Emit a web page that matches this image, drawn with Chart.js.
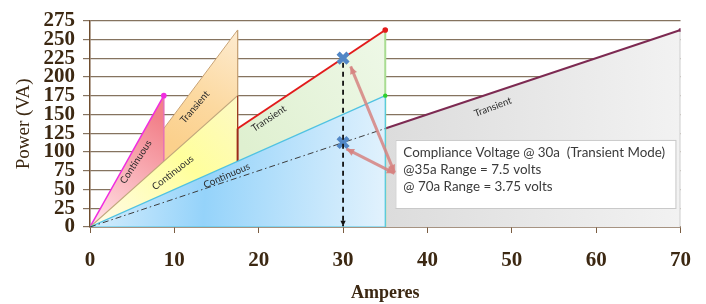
<!DOCTYPE html>
<html>
<head>
<meta charset="utf-8">
<script src="https://cdn.jsdelivr.net/npm/chart.js@4.4.1/dist/chart.umd.min.js"></script>
<style>
  html, body { margin: 0; padding: 0; background: #fff; }
  #wrap { width: 706px; height: 304px; position: relative; }
</style>
</head>
<body>
<div id="wrap"><canvas id="chart"></canvas></div>
<script>
// shapes: amps (x) and power in VA (y)
const pinkAmps = [0, 8.75, 8.75];
const pinkVA = [0, 175, 0];
const orangeAmps = [0, 17.5, 17.5];
const orangeVA = [0, 262.5, 0];
const yellowAmps = [0, 17.5, 17.5];
const yellowVA = [0, 175, 0];
const greenAmps = [17.5, 17.5, 35, 35];
const greenVA = [0, 131.25, 262.5, 0];
const blueAmps = [0, 35, 35, 0];
const blueVA = [0, 175, 0, 0];
const grayAmps = [35, 70, 70];
const grayVA = [131.25, 262.5, 0];
const dashAmps = [0, 35];
const dashVA = [0, 131.25];
const markAmps = [30, 30];
const markVA = [225, 112.5];

const xTicks = [0, 10, 20, 30, 40, 50, 60, 70];
const yTicks = [0, 25, 50, 75, 100, 125, 150, 175, 200, 225, 250, 275];

const boxLines = [
  "Compliance Voltage @ 30a  (Transient Mode)",
  "@35a Range = 7.5 volts",
  "@ 70a Range = 3.75 volts"
];

const zoneLabels = [
  { text: "Continuous", x: 5.43, y: 86.8, angle: -57 },
  { text: "Transient", x: 12.42, y: 159.8, angle: -49.5 },
  { text: "Continuous", x: 9.82, y: 72.4, angle: -38 },
  { text: "Continuous", x: 16.2, y: 68.5, angle: -23.5 },
  { text: "Transient", x: 21.2, y: 144.5, angle: -33.7 },
  { text: "Transient", x: 47.75, y: 159.8, angle: -21 }
];

function pts(xs, ys) {
  return xs.map((x, i) => ({ x: x, y: ys[i] }));
}

function grad(stops, from, to) {
  return (c) => {
    const ch = c.chart;
    if (!ch.chartArea) return stops[0][1];
    const sx = ch.scales.x, sy = ch.scales.y;
    const g = ch.ctx.createLinearGradient(
      sx.getPixelForValue(from[0]), sy.getPixelForValue(from[1]),
      sx.getPixelForValue(to[0]), sy.getPixelForValue(to[1]));
    stops.forEach(s => g.addColorStop(s[0], s[1]));
    return g;
  };
}

function segColors(colors) {
  return { borderColor: (c) => colors[c.p0DataIndex] };
}

function arrow(ctx, x0, y0, x1, y1, size, both) {
  const a = Math.atan2(y1 - y0, x1 - x0);
  const head = (x, y, ang) => {
    ctx.beginPath();
    ctx.moveTo(x, y);
    ctx.lineTo(x - size * Math.cos(ang - 0.45), y - size * Math.sin(ang - 0.45));
    ctx.lineTo(x - size * Math.cos(ang + 0.45), y - size * Math.sin(ang + 0.45));
    ctx.closePath();
    ctx.fill();
  };
  ctx.beginPath();
  ctx.moveTo(x0, y0);
  ctx.lineTo(x1, y1);
  ctx.stroke();
  ctx.setLineDash([]);
  head(x1, y1, a);
  if (both) head(x0, y0, a + Math.PI);
}

const notes = {
  id: "notes",
  afterDatasetsDraw(chart) {
    const ctx = chart.ctx;
    const sx = chart.scales.x, sy = chart.scales.y;
    const px = v => sx.getPixelForValue(v);
    const py = v => sy.getPixelForValue(v);
    ctx.save();

    // zone labels
    ctx.fillStyle = "#2b2b2b";
    ctx.font = "9.8px Lato";
    ctx.textAlign = "center";
    ctx.textBaseline = "middle";
    zoneLabels.forEach(l => {
      ctx.save();
      ctx.translate(px(l.x), py(l.y));
      ctx.rotate(l.angle * Math.PI / 180);
      ctx.fillText(l.text, 0, 0);
      ctx.restore();
    });

    // dashed drop line at 30a
    ctx.strokeStyle = "#111";
    ctx.fillStyle = "#111";
    ctx.lineWidth = 1.8;
    ctx.setLineDash([5, 4]);
    arrow(ctx, px(30), py(219), px(30), py(1), 6, false);

    // text box
    const bx0 = px(36.2), bx1 = px(69.4), by0 = py(116), by1 = py(25.3);
    ctx.fillStyle = "#ffffff";
    ctx.fillRect(bx0, by0, bx1 - bx0, by1 - by0);
    ctx.strokeStyle = "#c9c9c9";
    ctx.lineWidth = 1;
    ctx.strokeRect(bx0 + 0.5, by0 + 0.5, bx1 - bx0, by1 - by0);
    ctx.fillStyle = "#3a3a3a";
    ctx.font = "13.4px Lato";
    ctx.textAlign = "left";
    ctx.textBaseline = "middle";
    boxLines.forEach((t, i) => ctx.fillText(t, bx0 + 8, by0 + 13 + i * 16.7));

    // pink arrows to the markers
    ctx.strokeStyle = "rgba(214,130,128,0.85)";
    ctx.fillStyle = "rgba(214,130,128,0.9)";
    ctx.lineWidth = 3;
    arrow(ctx, px(30.9), py(214), px(36.1), py(72.5), 8.5, true);
    arrow(ctx, px(30.4), py(104), px(36.1), py(71.5), 8.5, true);

    ctx.restore();
  }
};

const tickFont = { family: "Liberation Serif", size: 21, weight: "bold" };
const brown = "#3c2812";

new Chart(document.getElementById("chart"), {
  type: "line",
  data: {
    datasets: [
      {
        data: pts(grayAmps, grayVA),
        order: 9,
        fill: "origin",
        backgroundColor: grad([[0, "#dcdcdc"], [1, "#f2f2f2"]], [35, 0], [70, 0]),
        borderWidth: 2,
        segment: segColors(["#7d2a52", "#cfcfcf"]),
        pointRadius: [0, 2, 0],
        pointBackgroundColor: "#7d2a52",
        pointBorderWidth: 0
      },
      {
        data: pts(orangeAmps, orangeVA),
        order: 8,
        fill: "origin",
        backgroundColor: grad([[0, "#fdebd0"], [0.6, "#fcd9a0"], [1, "#fbd08c"]], [17.5, 262.5], [10, 110]),
        borderWidth: 1,
        segment: segColors(["#c9a477", "#c9a477"]),
        pointRadius: 0
      },
      {
        data: pts(pinkAmps, pinkVA),
        order: 7,
        fill: "origin",
        backgroundColor: grad([[0, "#ffdde2"], [1, "#f2818a"]], [1, 10], [8.75, 140]),
        borderWidth: 1.5,
        segment: segColors(["#f02ce0", "#e671b5"]),
        pointRadius: [0, 2.8, 0],
        pointBackgroundColor: "#f02ce0",
        pointBorderWidth: 0
      },
      {
        data: pts(yellowAmps, yellowVA),
        order: 6,
        fill: "origin",
        backgroundColor: grad([[0, "#fffbe2"], [0.55, "#ffff9c"], [1, "#fdf9c4"]], [2, 5], [17.5, 170]),
        borderWidth: 1.2,
        segment: segColors(["#c0a67c", "#9c3b1f"]),
        pointRadius: 0
      },
      {
        data: pts(greenAmps, greenVA),
        order: 5,
        fill: "origin",
        backgroundColor: grad([[0, "#dff0d0"], [1, "#eef8e7"]], [17.5, 120], [35, 250]),
        borderWidth: 2,
        segment: segColors(["#9c2a1a", "#e21b1b", "#a9dc92"]),
        pointRadius: [0, 0, 2.8, 0],
        pointBackgroundColor: "#e21b1b",
        pointBorderWidth: 0
      },
      {
        data: pts(blueAmps, blueVA),
        order: 4,
        fill: "origin",
        backgroundColor: grad([[0, "#cbe9fc"], [0.35, "#95d3fa"], [1, "#e2f2fd"]], [2, 40], [35, 20]),
        borderWidth: 1.2,
        segment: segColors(["#4fc2e2", "#4fc8e4", "#4fc8e4"]),
        pointRadius: [0, 2.2, 0, 0],
        pointBackgroundColor: "#2ed12e",
        pointBorderWidth: 0
      },
      {
        data: pts(dashAmps, dashVA),
        order: 3,
        fill: false,
        borderColor: "#3c3c3c",
        borderWidth: 1,
        borderDash: [6, 3, 1.5, 3],
        pointRadius: 0
      },
      {
        data: pts(markAmps, markVA),
        order: 1,
        showLine: false,
        pointStyle: "crossRot",
        pointRadius: 7,
        pointBorderWidth: 4.5,
        pointBorderColor: "#5287c6",
        pointBackgroundColor: "#5287c6"
      }
    ]
  },
  options: {
    responsive: true,
    maintainAspectRatio: false,
    animation: false,
    events: [],
    layout: { padding: { top: 17, right: 15, left: 0, bottom: 0 } },
    plugins: {
      legend: { display: false },
      tooltip: { enabled: false }
    },
    scales: {
      x: {
        type: "linear",
        min: 0,
        max: 70,
        afterFit: s => { s.height = 77; },
        afterBuildTicks: s => { s.ticks = xTicks.map(v => ({ value: v })); },
        ticks: { font: tickFont, color: brown, padding: 15, maxRotation: 0, autoSkip: false },
        grid: { drawOnChartArea: false, drawTicks: true, tickLength: 6, color: "#7a5d42" },
        border: { color: "#6e4d2e", width: 1.5 },
        title: {
          display: true,
          text: "Amperes",
          color: brown,
          font: { family: "Liberation Serif", size: 18, weight: "bold" },
          padding: { top: 0, bottom: 0 }
        }
      },
      y: {
        min: 0,
        max: 275,
        afterFit: s => { s.width = 90; },
        afterBuildTicks: s => { s.ticks = yTicks.map(v => ({ value: v })); },
        ticks: { font: tickFont, color: brown, padding: 8, autoSkip: false },
        grid: { color: "#85735f", lineWidth: 1.2, tickLength: 7 },
        border: { color: "#6e4d2e", width: 1.5 },
        title: {
          display: true,
          text: "Power (VA)",
          color: brown,
          font: { family: "Liberation Serif", size: 19 },
          padding: { top: 13, bottom: 0 }
        }
      }
    }
  },
  plugins: [notes]
});
</script>
</body>
</html>
